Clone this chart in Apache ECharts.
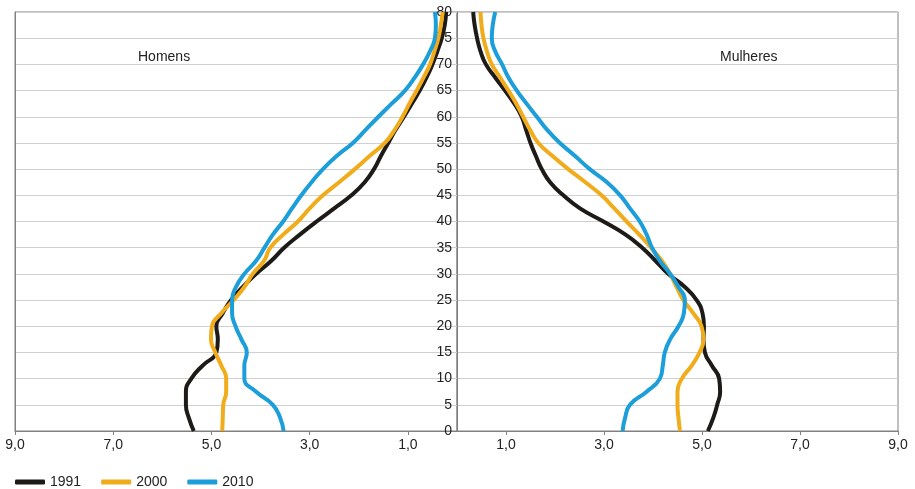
<!DOCTYPE html>
<html>
<head>
<meta charset="utf-8">
<script src="https://cdn.jsdelivr.net/npm/echarts@6/dist/echarts.min.js"></script>
<style>
html,body{margin:0;padding:0;background:#fff;}
#chart{width:915px;height:489px;}
</style>
</head>
<body>
<div id="chart"></div>
<script>
// Ages (y axis)
const ages = [0,2.5,5,7.5,10,12.5,15,17.5,20,22.5,25,27.5,30,32.5,35,37.5,40,42.5,45,47.5,50,52.5,55,57.5,60,62.5,65,67.5,70,72.5,75,77.5,80];
// Percent of population, Homens (left side)
const homens1991 = [5.36,5.46,5.52,5.52,5.41,5.18,4.90,4.87,4.90,4.77,4.60,4.36,4.09,3.78,3.52,3.20,2.86,2.50,2.15,1.88,1.69,1.55,1.40,1.25,1.08,0.92,0.76,0.62,0.50,0.40,0.31,0.25,0.22];
const homens2000 = [4.78,4.77,4.76,4.70,4.70,4.80,4.92,5.01,4.99,4.80,4.55,4.33,4.16,3.93,3.80,3.54,3.24,3.00,2.73,2.40,2.08,1.78,1.47,1.27,1.11,0.97,0.82,0.68,0.55,0.46,0.38,0.33,0.29];
const homens2010 = [3.53,3.60,3.75,4.09,4.33,4.33,4.28,4.39,4.51,4.58,4.58,4.50,4.33,4.09,3.92,3.75,3.54,3.36,3.17,2.96,2.73,2.45,2.12,1.86,1.60,1.33,1.06,0.86,0.69,0.55,0.45,0.43,0.45];
// Percent of population, Mulheres (right side)
const mulheres1991 = [5.12,5.23,5.31,5.37,5.35,5.20,5.06,5.03,5.04,5.01,4.89,4.65,4.31,4.05,3.78,3.44,2.99,2.51,2.17,1.90,1.73,1.61,1.50,1.41,1.32,1.17,0.98,0.78,0.59,0.48,0.41,0.36,0.33];
const mulheres2000 = [4.55,4.52,4.50,4.50,4.59,4.79,4.95,5.03,4.99,4.82,4.62,4.48,4.35,4.18,3.96,3.72,3.46,3.21,2.95,2.62,2.27,1.95,1.66,1.49,1.35,1.21,1.05,0.88,0.71,0.61,0.54,0.50,0.48];
const mulheres2010 = [3.38,3.43,3.53,3.87,4.14,4.20,4.24,4.35,4.52,4.63,4.65,4.52,4.35,4.14,3.98,3.87,3.73,3.53,3.33,3.06,2.71,2.41,2.10,1.84,1.63,1.42,1.22,1.05,0.92,0.78,0.71,0.73,0.78];
const years = ['1991','2000','2010'];
const xTicks = [1,3,5,7,9];
const panelLabels = ['Homens','Mulheres'];

const colors = {'1991':'#1e1a18','2000':'#f1ac1b','2010':'#1b9ed9'};
const font = '"Liberation Sans", Arial, sans-serif';

function mk(name, vals, idx){
  return {
    name: name, type: 'line', showSymbol: false, smooth: 0.5,
    xAxisIndex: idx, yAxisIndex: idx,
    color: colors[name],
    lineStyle: {width: 4, color: colors[name]},
    data: vals.map((v,i)=>[v, ages[i]]),
    z: 3
  };
}
function xAx(idx, inverse){
  return {
    type: 'value', gridIndex: idx, min: 0, max: 9, inverse: inverse,
    axisLine: {show: true, onZero: false, lineStyle: {color: '#808080', width: 1}},
    axisTick: {show: true, length: 4, customValues: xTicks, lineStyle: {color: '#808080'}},
    axisLabel: {customValues: xTicks, margin: 7, fontSize: 14, color: '#222', fontFamily: font,
      formatter: v => v.toFixed(1).replace('.', ',')},
    splitLine: {show: false}
  };
}
function yAx(idx, showLabels){
  return {
    type: 'value', gridIndex: idx, min: 0, max: 80, interval: 5, position: 'left',
    axisLine: {show: true, onZero: false, lineStyle: {color: '#808080', width: 1}},
    axisTick: {show: false},
    axisLabel: {show: showLabels, margin: 5, fontSize: 14, color: '#222', fontFamily: font},
    splitLine: {show: true, lineStyle: {color: '#d0d0d0', width: 1}}
  };
}

const chart = echarts.init(document.getElementById('chart'), null, {renderer:'canvas'});
chart.setOption({
  animation: false,
  textStyle: {fontFamily: font},
  grid: [
    {left: 15, width: 442, top: 12, bottom: 58, show: true, borderColor: '#808080', borderWidth: 1, backgroundColor: 'transparent', outerBoundsMode: 'none', containLabel: false},
    {left: 457, right: 17, top: 12, bottom: 58, show: true, borderColor: '#808080', borderWidth: 1, backgroundColor: 'transparent', outerBoundsMode: 'none', containLabel: false}
  ],
  legend: {
    data: years, left: 15, top: 475, padding: 0, itemWidth: 30, itemHeight: 5, itemGap: 20,
    icon: 'roundRect',
    textStyle: {fontSize: 14, color: '#222', fontFamily: font}
  },
  xAxis: [xAx(0, true), xAx(1, false)],
  yAxis: [yAx(0, false), yAx(1, true)],
  graphic: [
    {type: 'text', left: 138, top: 50, style: {text: panelLabels[0], font: '14px ' + font, fill: '#222'}},
    {type: 'text', left: 720, top: 50, style: {text: panelLabels[1], font: '14px ' + font, fill: '#222'}}
  ],
  series: [
    mk('1991', homens1991, 0), mk('2000', homens2000, 0), mk('2010', homens2010, 0),
    mk('1991', mulheres1991, 1), mk('2000', mulheres2000, 1), mk('2010', mulheres2010, 1)
  ]
});
</script>
</body>
</html>
